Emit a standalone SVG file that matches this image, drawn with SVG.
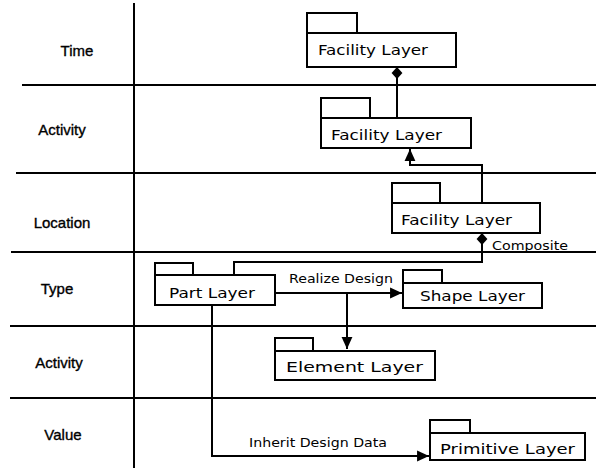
<svg xmlns="http://www.w3.org/2000/svg" width="596" height="470" viewBox="0 0 596 470">
<style>
.bg{fill:#fff}
.grid{stroke:#000;stroke-width:2;fill:none}
.box{fill:#fff;stroke:#000;stroke-width:2}
.lbl{font-family:"Liberation Sans",Arial,sans-serif;font-size:15px;fill:#000;stroke:#000;stroke-width:0.35;text-anchor:middle}
.nt{font-family:"DejaVu Sans","Liberation Sans",sans-serif;font-size:14px;fill:#000}
.et{font-family:"DejaVu Sans","Liberation Sans",sans-serif;font-size:11.5px;fill:#000}
.con{stroke:#000;stroke-width:2;fill:none}
</style>
<defs>
<marker id="arr" markerUnits="userSpaceOnUse" markerWidth="13" markerHeight="13" viewBox="0 0 12 12" refX="11" refY="6" orient="auto">
<path d="M0,1 L11,6 L0,11 Z" fill="#000"/>
</marker>
<marker id="dia" markerUnits="userSpaceOnUse" markerWidth="13" markerHeight="13" viewBox="0 0 12 12" refX="0.5" refY="6" orient="auto">
<path d="M0.5,6 L6,1 L11.5,6 L6,11 Z" fill="#000"/>
</marker>
</defs>
<rect class="bg" x="0" y="0" width="596" height="470"/>
<g id="grid">
<line class="grid" x1="134" y1="3" x2="134" y2="468"/>
<line class="grid" x1="22" y1="85" x2="596" y2="85"/>
<line class="grid" x1="16" y1="173" x2="596" y2="173"/>
<line class="grid" x1="11" y1="252" x2="596" y2="252"/>
<line class="grid" x1="10" y1="326" x2="596" y2="326"/>
<line class="grid" x1="10" y1="398" x2="596" y2="398"/>
</g>
<g id="row-labels">
<text class="lbl" x="77" y="56">Time</text>
<text class="lbl" x="62" y="135">Activity</text>
<text class="lbl" x="62" y="228">Location</text>
<text class="lbl" x="57" y="294">Type</text>
<text class="lbl" x="59" y="368">Activity</text>
<text class="lbl" x="63" y="440">Value</text>
</g>
<g id="connectors">
<path class="con" d="M397,67 V118" marker-start="url(#dia)"/>
<path class="con" d="M482,203 V165 H410 V149" marker-end="url(#arr)"/>
<path class="con" d="M482,233 V262 H234 V275" marker-start="url(#dia)"/>
<path class="con" d="M275,293 H402" marker-end="url(#arr)"/>
<path class="con" d="M347,293 V349" marker-end="url(#arr)"/>
<path class="con" d="M212,305 V456 H429" marker-end="url(#arr)"/>
<text class="et" x="289" y="283" textLength="104" lengthAdjust="spacingAndGlyphs">Realize Design</text>
<text class="et" x="249" y="447" textLength="138" lengthAdjust="spacingAndGlyphs">Inherit Design Data</text>
<text class="et" x="492" y="250" textLength="76" lengthAdjust="spacingAndGlyphs">Composite</text>
</g>
<g id="facility-time">
<rect class="box" x="307" y="13" width="50" height="20"/>
<rect class="box" x="307" y="33" width="149" height="34"/>
<text class="nt" x="318" y="55" textLength="110" lengthAdjust="spacingAndGlyphs">Facility Layer</text>
</g>
<g id="facility-activity">
<rect class="box" x="321" y="98" width="49" height="20"/>
<rect class="box" x="321" y="118" width="150" height="30"/>
<text class="nt" x="331" y="140" textLength="111" lengthAdjust="spacingAndGlyphs">Facility Layer</text>
</g>
<g id="facility-location">
<rect class="box" x="392" y="183" width="48" height="20"/>
<rect class="box" x="392" y="203" width="148" height="30"/>
<text class="nt" x="401" y="225" textLength="111" lengthAdjust="spacingAndGlyphs">Facility Layer</text>
</g>
<g id="part-layer">
<rect class="box" x="155" y="263" width="38" height="12"/>
<rect class="box" x="155" y="275" width="120" height="30"/>
<text class="nt" x="169" y="298" textLength="86" lengthAdjust="spacingAndGlyphs">Part Layer</text>
</g>
<g id="shape-layer">
<rect class="box" x="403" y="270" width="39" height="13"/>
<rect class="box" x="403" y="283" width="139" height="25"/>
<text class="nt" x="420" y="301" textLength="105" lengthAdjust="spacingAndGlyphs">Shape Layer</text>
</g>
<g id="element-layer">
<rect class="box" x="275" y="338" width="38" height="13"/>
<rect class="box" x="275" y="351" width="160" height="29"/>
<text class="nt" x="286" y="372" font-size="15.5" textLength="137" lengthAdjust="spacingAndGlyphs">Element Layer</text>
</g>
<g id="primitive-layer">
<rect class="box" x="430" y="420" width="40" height="13"/>
<rect class="box" x="430" y="433" width="155" height="27"/>
<text class="nt" x="440" y="454" textLength="135" lengthAdjust="spacingAndGlyphs">Primitive Layer</text>
</g>
</svg>
